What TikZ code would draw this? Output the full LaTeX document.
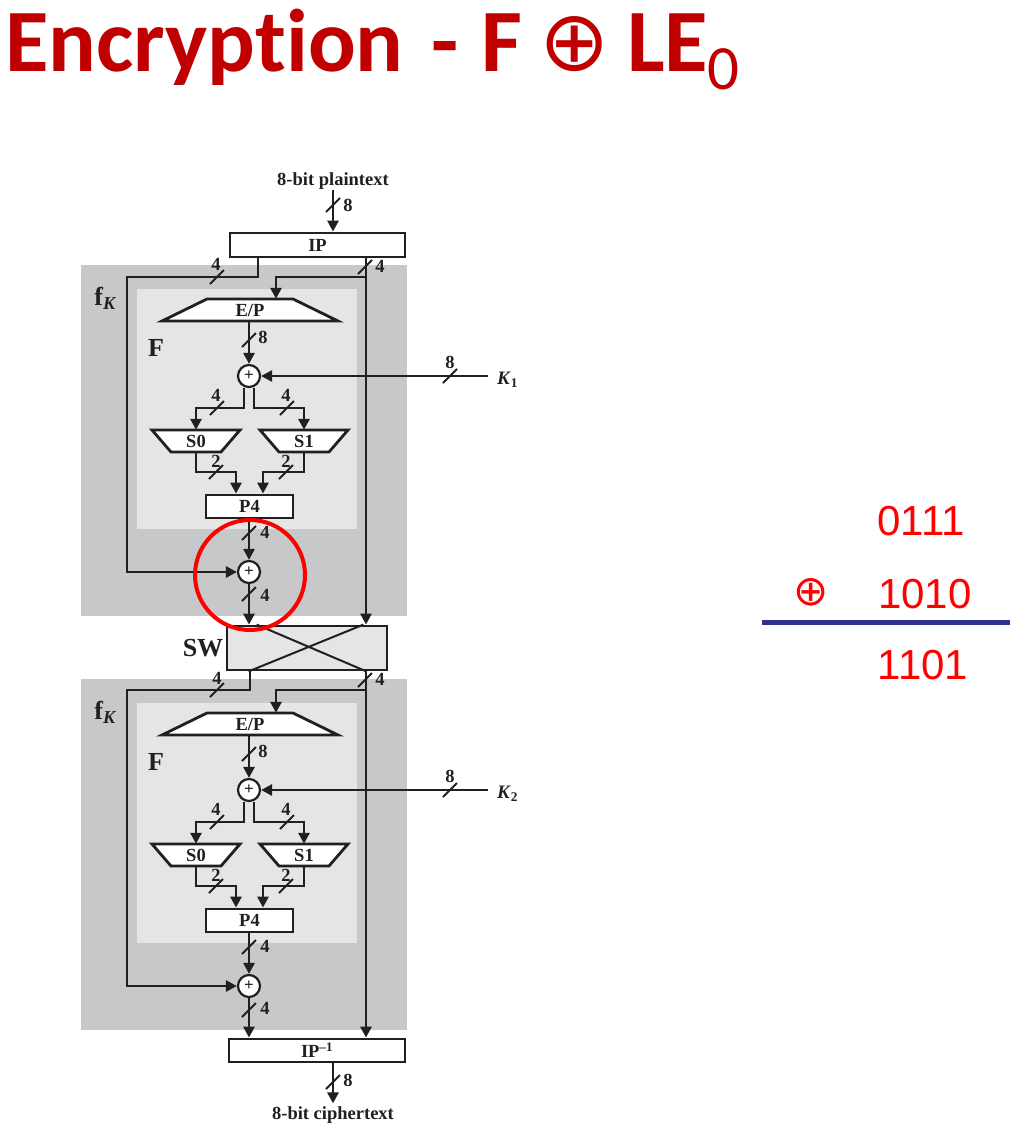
\documentclass[tikz,border=0pt]{standalone}
\usepackage{fontspec}
\setmainfont{Liberation Serif}
\newfontfamily\titlefont{Carlito}[Ligatures={NoCommon,NoRare,NoContextual}]
\newfontfamily\numfont{Liberation Sans}
\newfontfamily\symfont{DejaVu Sans}
\usetikzlibrary{arrows.meta,calc}
\definecolor{titlered}{HTML}{C00000}
\definecolor{numred}{HTML}{FF0000}
\definecolor{navyline}{HTML}{2E3192}
\definecolor{outergray}{HTML}{C7C8CA}
\definecolor{innergray}{HTML}{E5E5E5}
\definecolor{ink}{HTML}{231F20}
\newcommand\setfs[1]{\fontsize{#1}{#1}\selectfont}
% bus mark: name, x, y, label x, label y, text
\newcommand\busmark[6]{%
  \draw[slashline] ($(#2,#3)+(-7,7)$) -- ++(14,-14);
  \node[lbl] (#1) at (#4,#5) {#6};}
% one f_K round: suffix, yshift, key index
\newcommand\fkround[3]{%
\begin{scope}[yshift=#2]
  \node[fill=outergray, minimum width=326, minimum height=351, anchor=north west, inner sep=0] (fk#1) at (81,265) {};
  \node[fill=innergray, minimum width=220, minimum height=240, anchor=north west, inner sep=0] (F#1) at (137,289) {};
  \node[lbl] (fklab#1) at (105,298) {\setfs{26}f\textsubscript{\itshape K}};
  \node[lbl] (Flab#1) at (156,348) {\setfs{26}F};
  % E/P
  \draw[shape line] (207,299) -- (293,299) -- (338,321) -- (162,321) -- cycle;
  \node[lbl, minimum width=86, minimum height=22] (ep#1) at (250,310) {E/P};
  % XOR with key
  \node[xorc] (xa#1) at (249,376) {+};
  \draw[arr] (ep#1.south -| xa#1) -- (xa#1.north);
  \busmark{b8a#1}{249}{340}{263}{337}{8}
  \coordinate (k#1) at (488,376);
  \draw[arr] (k#1) -- (xa#1.east);
  \busmark{b8k#1}{450}{376}{450}{362}{8}
  \node[lbl, anchor=west] (klab#1) at (497,380) {\setfs{19}\textit{K}\textsubscript{#3}};
  % S-boxes
  \draw[shape line] (152,430) -- (240,430) -- (221,452) -- (171,452) -- cycle;
  \draw[shape line] (260,430) -- (348,430) -- (329,452) -- (279,452) -- cycle;
  \node[lbl, minimum width=50, minimum height=22] (sa#1) at (196,441) {S0};
  \node[lbl, minimum width=50, minimum height=22] (sb#1) at (304,441) {S1};
  \coordinate (spa#1) at (244,408);
  \coordinate (spb#1) at (254,408);
  \draw[arr] (xa#1.south -| spa#1) -- (spa#1) -| (sa#1.north);
  \draw[arr] (xa#1.south -| spb#1) -- (spb#1) -| (sb#1.north);
  \busmark{b4sa#1}{217}{408}{216}{395}{4}
  \busmark{b4sb#1}{287}{408}{286}{395}{4}
  % P4
  \node[box, minimum width=87, minimum height=23] (p4#1) at (249.5,506.5) {P4};
  \coordinate (mga#1) at (236,472);
  \coordinate (mgb#1) at (263,472);
  \draw[arr] (sa#1.south) |- (mga#1) -- (mga#1 |- p4#1.north);
  \draw[arr] (sb#1.south) |- (mgb#1) -- (mgb#1 |- p4#1.north);
  \busmark{b2a#1}{216}{472}{216}{461}{2}
  \busmark{b2b#1}{286}{472}{286}{461}{2}
  % second XOR
  \node[xorc] (xb#1) at (249,572) {+};
  \draw[arr] (p4#1.south -| xb#1) -- (xb#1.north);
  \busmark{b4p#1}{249}{533}{265}{532}{4}
\end{scope}}
\begin{document}
\begin{tikzpicture}[x=1pt, y=-1pt,
  line/.style={draw=ink, line width=2.8pt},
  shape line/.style={draw=ink, line width=2.8pt, fill=white, line join=miter},
  arr/.style={line, -{Triangle[length=11pt,width=11pt]}},
  slashline/.style={draw=ink, line width=1.8pt},
  lbl/.style={font=\bfseries\setfs{18.5}, text=ink, inner sep=0},
  box/.style={draw=ink, line width=2.8pt, fill=white, inner sep=0, font=\bfseries\setfs{18.5}, text=ink},
  xorc/.style={circle, draw=ink, line width=2.2pt, fill=white, minimum size=22, inner sep=0, font=\bfseries\setfs{17}, text=ink},
  title/.style={font=\titlefont\bfseries\setfs{89}, text=titlered, inner sep=0},
  num/.style={font=\numfont\setfs{42}, text=numred, inner sep=0}]
\fill[white] (0,0) rectangle (1031,1146);
\useasboundingbox (0,0) rectangle (1031,1146);

% title
\node[title, anchor=base west] (t1) at (5,71) {Encryption};
\node[title, anchor=base west] (t1b) at (431,71) {-};
\node[title, anchor=base west] (t1c) at (481,71) {F};
\node[font=\symfont\setfs{84}, text=titlered, inner sep=0] (t2) at (575,44) {⊕};
\node[title, anchor=base west] (t3) at (627,71) {LE};
\node[title, anchor=base west, font=\titlefont\setfs{63}] (t4) at (707,89) {0};

% rounds
\fkround{1}{0pt}{1}
\fkround{2}{-414pt}{2}

% IP
\node[lbl] (ptxt) at (333,181) {8-bit plaintext};
\node[box, minimum width=175, minimum height=24] (IP) at (317.5,245) {IP};
\draw[arr] (ptxt.south) -- (ptxt.south |- IP.north);
\busmark{b8in}{333}{205}{348}{205}{8}

% SW
\node[box, fill=innergray, minimum width=160, minimum height=44] (SW) at (307,648) {};
\draw[draw=ink, line width=2pt] ($(SW.north west)+(31,0)$) -- ($(SW.south east)+(-22,0)$);
\draw[draw=ink, line width=2pt] ($(SW.north east)+(-25,0)$) -- ($(SW.south west)+(23,0)$);
\node[lbl] (swlab) at (203,648) {\setfs{26}SW};

% IP^-1
\node[box, minimum width=176, minimum height=23] (IPinv) at (317,1050.5) {IP\textsuperscript{--1}};
\node[lbl] (ctxt) at (333,1115) {8-bit ciphertext};

% round 1 inputs
\coordinate (la1) at (258,277);
\coordinate (lb1) at (127,277);
\draw[arr] (IP.south -| la1) -- (la1) -- (lb1) |- (xb1.west);
\busmark{b4l1}{217}{277}{216}{264}{4}
\coordinate (ra1) at (366,277);
\coordinate (rb1) at (276,277);
\draw[arr] (IP.south -| ra1) -- (ra1 |- SW.north);
\draw[arr] (ra1) -- (rb1) -- (rb1 |- ep1.north);
\busmark{b4r1}{365}{267}{380}{266}{4}
\draw[arr] (xb1.south) -- (xb1.south |- SW.north);
\busmark{b4o1}{249}{594}{265}{595}{4}

% round 2 inputs
\coordinate (la2) at (250,690);
\coordinate (lb2) at (127,690);
\draw[arr] (SW.south -| la2) -- (la2) -- (lb2) |- (xb2.west);
\busmark{b4l2}{217}{690}{217}{678}{4}
\coordinate (ra2) at (366,690);
\coordinate (rb2) at (276,690);
\draw[arr] (SW.south -| ra2) -- (ra2 |- IPinv.north);
\draw[arr] (ra2) -- (rb2) -- (rb2 |- ep2.north);
\busmark{b4r2}{365}{680}{380}{679}{4}
\draw[arr] (xb2.south) -- (xb2.south |- IPinv.north);
\busmark{b4o2}{249}{1010}{265}{1008}{4}

% output
\draw[arr] (IPinv.south -| ctxt) -- ($(ctxt.north)+(0,-3)$);
\busmark{b8out}{333}{1082}{348}{1080}{8}

% highlight
\node[circle, draw=red, line width=4pt, minimum size=110, inner sep=0] (hl) at (250,575) {};

% side computation
\node[num] (n1) at (921,521) {0111};
\node[font=\symfont\setfs{42}, text=numred, inner sep=0] (op) at (811,592) {⊕};
\node[num] (n2) at (925,594) {1010};
\coordinate (ul) at (762,622);
\coordinate (ur) at (1010,622);
\draw[navyline, line width=5pt] (ul) -- (ur);
\node[num] (n3) at (923,665) {1101};
\end{tikzpicture}
\end{document}
